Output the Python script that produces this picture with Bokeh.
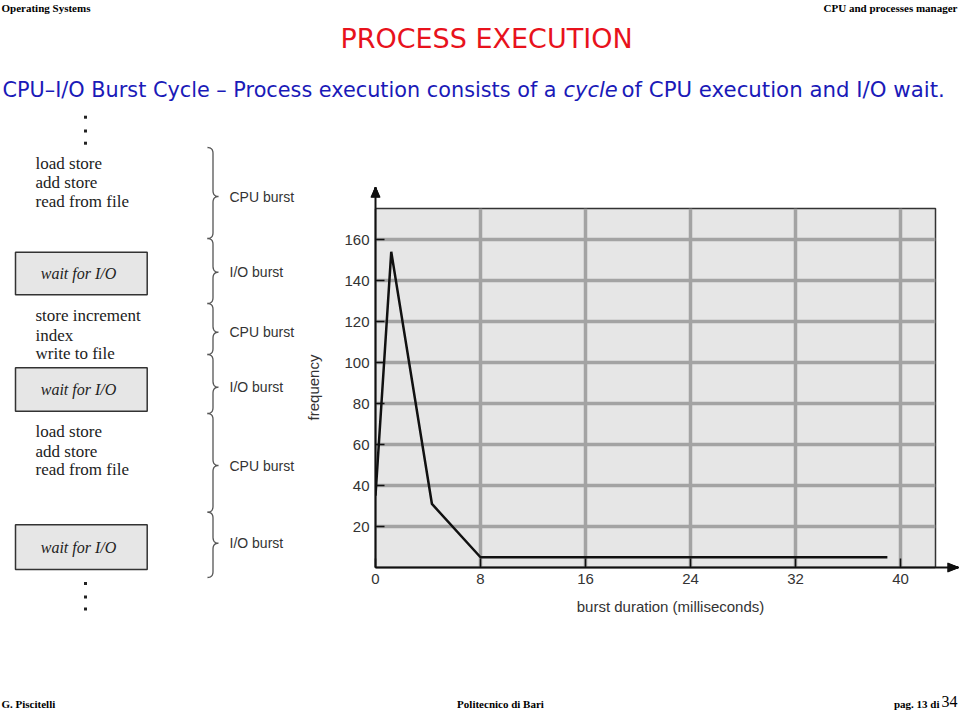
import numpy as np
from bokeh.plotting import figure
from bokeh.models import Range1d, FixedTicker
from bokeh.core.properties import value
from bokeh.embed import file_html
from bokeh.resources import INLINE

# ---------------- data ----------------
burst_ms = [0, 1.2, 4.3, 8, 39]
frequency = [35, 154, 31, 5, 5]
x_ticks = [0, 8, 16, 24, 32, 40]
y_ticks = [20, 40, 60, 80, 100, 120, 140, 160]

code_block_1 = ["load store", "add store", "read from file"]
code_block_2 = ["store increment", "index", "write to file"]
code_block_3 = ["load store", "add store", "read from file"]
wait_text = "wait for I/O"
burst_labels = ["CPU burst", "I/O burst", "CPU burst", "I/O burst", "CPU burst", "I/O burst"]

# ---------------- geometry (slide pixels) ----------------
W, H = 960, 711
ML, MR, MT, MB = 375, 25, 208, 144
FX0 = ML
FY1 = H - MB
KX = 13.125
KY = 2.05


def X(px):
    return (px - FX0) / KX


def Y(py):
    return (FY1 - py) / KY


p = figure(width=W, height=H, output_backend="svg", toolbar_location=None,
           x_range=Range1d(0, (W - ML - MR) / KX), y_range=Range1d(0, (H - MT - MB) / KY),
           min_border_left=ML, min_border_right=MR, min_border_top=MT, min_border_bottom=MB)

p.background_fill_color = "#e6e6e6"
p.border_fill_color = "white"
p.outline_line_color = "#333333"
p.outline_line_width = 1.5

p.xaxis.ticker = FixedTicker(ticks=x_ticks)
p.yaxis.ticker = FixedTicker(ticks=y_ticks)
for ax in (p.xaxis[0], p.yaxis[0]):
    ax.axis_line_color = "#111111"
    ax.axis_line_width = 2
    ax.major_tick_in = 9
    ax.major_tick_out = 0
    ax.minor_tick_in = 0
    ax.minor_tick_out = 0
    ax.major_tick_line_color = "#111111"
    ax.major_tick_line_width = 1.5
    ax.major_label_text_font = "Liberation Sans"
    ax.major_label_text_font_size = "15px"
    ax.major_label_text_color = "#333333"
    ax.major_label_standoff = 6

p.xgrid.ticker = FixedTicker(ticks=x_ticks[1:])
p.ygrid.ticker = FixedTicker(ticks=y_ticks)
for g in (p.xgrid[0], p.ygrid[0]):
    g.grid_line_color = "#a3a3a3"
    g.grid_line_width = 3.5

# data line
p.line(burst_ms, frequency, line_color="#111111", line_width=2.5)

# axis arrows: shafts beyond the frame + filled heads drawn as fans of strokes
p.line([X(935), X(950)], [0, 0], line_color="#111111", line_width=2, level="overlay")
p.line([0, 0], [Y(208), Y(194)], line_color="#111111", line_width=2, level="overlay")
fan = np.linspace(-4.5, 4.5, 19)
fx = [[X(958), X(947)] for _ in fan] + [[X(375), X(375 + f)] for f in fan]
fy = [[Y(567), Y(567 + f)] for f in fan] + [[Y(187), Y(197)] for _ in fan]
p.multi_line(fx, fy, line_color="#111111", line_width=1.2, level="overlay")

AXF = "Liberation Sans"
SERIF = "Liberation Serif"


def lab(px, py, text, font=AXF, size="14px", color="#222222", style="normal",
        align="left", angle=0.0):
    p.text(x=[X(px)], y=[Y(py)], text=[text], text_font=value(font),
           text_font_size=value(size), text_color=color, text_font_style=style,
           text_align=align, text_baseline="middle", angle=angle, level="overlay")


lab(313, 387, "frequency", size="15px", color="#333333", align="center", angle=np.pi / 2)
lab(670, 606, "burst duration (milliseconds)", size="15px", color="#333333", align="center")

# ---------------- slide texts ----------------
lab(1, 7, "Operating  Systems", font=SERIF, size="11px", style="bold", color="black")
lab(957, 7, "CPU and processes manager", font=SERIF, size="11px", style="bold",
    color="black", align="right")
lab(486, 38, "PROCESS EXECUTION", font="DejaVu Sans", size="27px", color="#e8121c",
    align="center")
BLUE = "#1a1ab8"
lab(2, 89, "CPU\u2013I/O Burst Cycle \u2013 Process execution consists of a",
    font="DejaVu Sans", size="20.8px", color=BLUE)
lab(563, 89, "cycle", font="DejaVu Sans", size="21px", color=BLUE, style="italic")
lab(621, 89, "of CPU execution and I/O wait.", font="DejaVu Sans", size="21.3px", color=BLUE)

lab(1, 703, "G. Piscitelli", font=SERIF, size="11px", style="bold", color="black")
lab(500, 703, "Politecnico di Bari", font=SERIF, size="11px", style="bold", color="black",
    align="center")
lab(939, 703, "pag. 13 di", font=SERIF, size="11px", style="bold", color="black",
    align="right")
lab(941, 701, "34", font=SERIF, size="16px", color="black")

# code lines
for block, ys in ((code_block_1, (162.7, 181.7, 200.7)),
                  (code_block_2, (315, 334.5, 353.3)),
                  (code_block_3, (431, 450.7, 469.3))):
    for t, yy in zip(block, ys):
        lab(35, yy, t, font=SERIF, size="17px")

# wait boxes
box_tops = [251.7, 367.3, 524.3]
box_bots = [294.3, 410.7, 569]
p.quad(left=[X(15)] * 3, right=[X(146.7)] * 3,
       top=[Y(t) for t in box_tops], bottom=[Y(b) for b in box_bots],
       fill_color="#e6e6e6", line_color="#333333", line_width=1.5, level="overlay")
for t, b in zip(box_tops, box_bots):
    lab(78, (t + b) / 2, wait_text, font=SERIF, size="16px", style="italic", align="center")

# dots
dot_y = [116.7, 130.5, 142.7, 583, 596.5, 608.5]
p.quad(left=[X(83.5)] * 6, right=[X(86.5)] * 6,
       top=[Y(v - 1.5) for v in dot_y], bottom=[Y(v + 1.5) for v in dot_y],
       fill_color="#222222", line_color=None, level="overlay")

# braces
brace_spans = [(147, 238, 196), (238, 303, 271.7), (303, 354, 331.7),
               (354, 413, 386.7), (413, 511.7, 465), (511.7, 577, 542.7)]


def qbez(p0, c, p1, n=10):
    t = np.linspace(0, 1, n)
    return ((1 - t) ** 2 * p0[0] + 2 * (1 - t) * t * c[0] + t ** 2 * p1[0],
            (1 - t) ** 2 * p0[1] + 2 * (1 - t) * t * c[1] + t ** 2 * p1[1])


def brace(y1, y2, ym, xv=212.5, xc=207, xt=218, r=6):
    segs = [qbez((xc, y1), (xv, y1), (xv, y1 + r)),
            qbez((xv, ym - r), (xv, ym), (xt, ym)),
            qbez((xt, ym), (xv, ym), (xv, ym + r)),
            qbez((xv, y2 - r), (xv, y2), (xc, y2))]
    xs = np.concatenate([s[0] for s in segs])
    ys = np.concatenate([s[1] for s in segs])
    return [X(v) for v in xs], [Y(v) for v in ys]


bx, by = [], []
for y1, y2, ym in brace_spans:
    a, b = brace(y1, y2, ym)
    bx.append(a)
    by.append(b)
p.multi_line(bx, by, line_color="#555555", line_width=1.3, level="overlay")

for (y1, y2, ym), t in zip(brace_spans, burst_labels):
    lab(229, ym, t, size="14px", color="#333333")

open("out.html", "w").write(file_html(p, INLINE))
